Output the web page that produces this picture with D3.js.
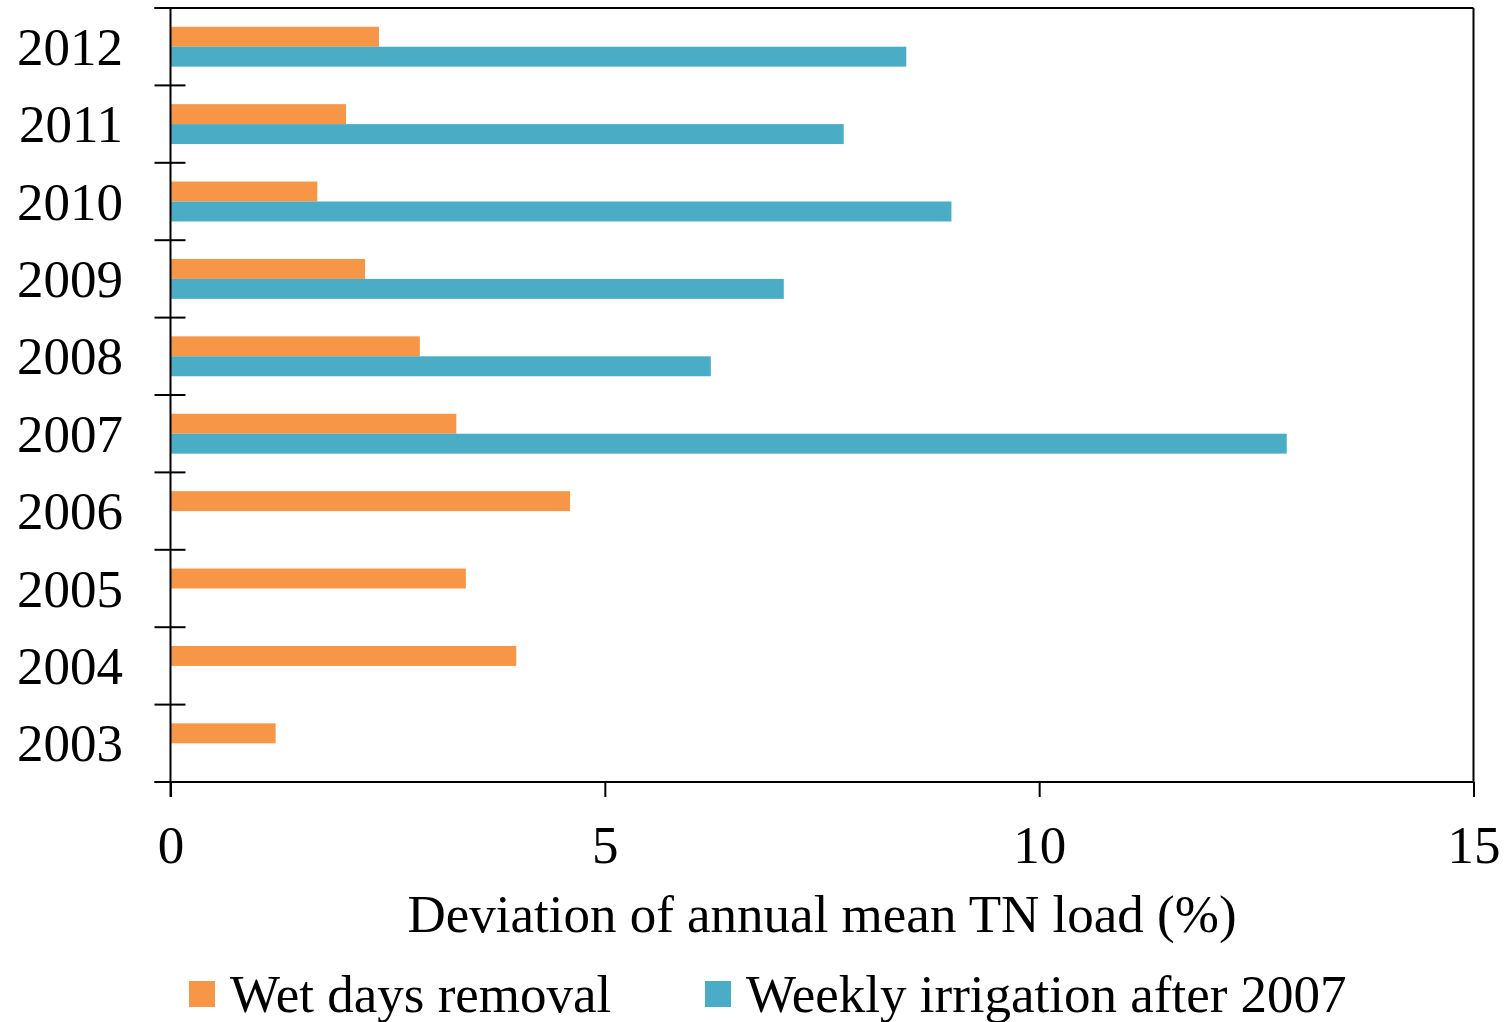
<!DOCTYPE html>
<html>
<head>
<meta charset="utf-8">
<script src="https://cdn.jsdelivr.net/npm/d3@7"></script>
<style>
  html, body { margin: 0; padding: 0; background: #fff; }
  svg { display: block; }
  text { font-family: "Liberation Serif", "Times New Roman", serif; fill: #000; }
</style>
</head>
<body>
<svg id="chart" width="1511" height="1022"></svg>
<script>
// ---- data ----
const years = ["2012", "2011", "2010", "2009", "2008", "2007", "2006", "2005", "2004", "2003"];
const wetDaysRemoval = [2.40, 2.02, 1.69, 2.24, 2.87, 3.29, 4.60, 3.40, 3.98, 1.21];
const weeklyIrrigation = [8.47, 7.75, 8.99, 7.06, 6.22, 12.85, null, null, null, null];
const seriesNames = ["Wet days removal", "Weekly irrigation after 2007"];
const seriesColors = ["#F79646", "#4BACC6"];
const xTicks = [0, 5, 10, 15];
const xTitle = "Deviation of annual mean TN load (%)";

// ---- layout ----
const svg = d3.select("#chart");
const L = 170.5, R = 1473.5, T = 8, B = 782;
const fontSize = 53;

const x = d3.scaleLinear().domain([0, 15]).range([L, R]);
const y0 = d3.scaleBand().domain(years).range([T, B]).padding(0);
const y1 = d3.scaleBand().domain(seriesNames).range([0, y0.bandwidth()])
  .paddingInner(0).paddingOuter(0.94);

const rows = years.map((yr, i) => ({
  year: yr,
  vals: [wetDaysRemoval[i], weeklyIrrigation[i]]
}));

// bars
const g = svg.append("g");
rows.forEach(r => {
  r.vals.forEach((v, j) => {
    if (v == null) return;
    g.append("rect")
      .attr("x", x(0))
      .attr("y", y0(r.year) + y1(seriesNames[j]))
      .attr("width", x(v) - x(0))
      .attr("height", y1.bandwidth())
      .attr("fill", seriesColors[j]);
  });
});

// frame
const frame = svg.append("g").attr("stroke", "#000").attr("stroke-width", 2).attr("fill", "none");
frame.append("line").attr("x1", L - 16).attr("x2", R).attr("y1", T).attr("y2", T);
frame.append("line").attr("x1", R).attr("x2", R).attr("y1", T).attr("y2", B);

// left axis labels
const yAxis = d3.axisLeft(y0).tickSize(0).tickPadding(47.5);
const ya = svg.append("g").attr("transform", `translate(${L},0)`).call(yAxis);
ya.select(".domain").remove();
ya.selectAll("text").style("font-size", fontSize + "px").attr("dy", "0.34em")
  .style("font-family", '"Liberation Serif", serif');

// left axis line and crossing ticks at band boundaries
const bounds = years.map(yr => y0(yr)).concat([B]);
frame.append("line").attr("x1", L).attr("x2", L).attr("y1", T).attr("y2", B + 15);
bounds.forEach(b => {
  frame.append("line").attr("x1", L - 16).attr("x2", L + 15).attr("y1", b).attr("y2", b);
});

// bottom axis
const xAxis = d3.axisBottom(x).tickValues(xTicks).tickSize(15).tickSizeOuter(0).tickPadding(28.4);
const xa = svg.append("g").attr("transform", `translate(0,${B})`).call(xAxis);
xa.select(".domain").remove();
xa.selectAll("line").attr("stroke", "#000").attr("stroke-width", 2);
xa.selectAll("text").style("font-size", fontSize + "px").style("font-family", '"Liberation Serif", serif');
frame.append("line").attr("x1", L - 16).attr("x2", R).attr("y1", B).attr("y2", B);

// x title
svg.append("text")
  .attr("x", (L + R) / 2).attr("y", 932)
  .attr("text-anchor", "middle")
  .style("font-size", fontSize + "px")
  .text(xTitle);

// legend
const legendX = [189, 705];
seriesNames.forEach((n, j) => {
  svg.append("rect").attr("x", legendX[j]).attr("y", 981).attr("width", 26).attr("height", 26)
    .attr("fill", seriesColors[j]);
  svg.append("text").attr("x", legendX[j] + 41).attr("y", 1012)
    .style("font-size", fontSize + "px").text(n);
});
</script>
</body>
</html>
